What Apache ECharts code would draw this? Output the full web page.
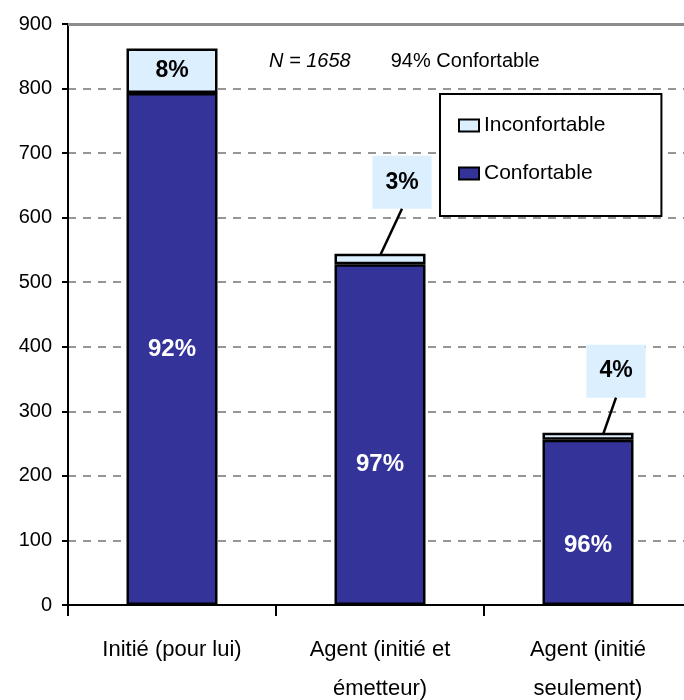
<!DOCTYPE html>
<html>
<head>
<meta charset="utf-8">
<style>
  html, body { margin: 0; padding: 0; background: #fff; }
  #chart { width: 684px; height: 700px; }
</style>
<script src="https://cdn.jsdelivr.net/npm/echarts@6/dist/echarts.min.js"></script>
</head>
<body>
<div id="chart"></div>
<script>
// données
const categories = ['Initié (pour lui)', 'Agent (initié et\németteur)', 'Agent (initié\nseulement)']
const confortable = [793, 528, 256]
const inconfortable = [69, 16, 11]
const yTicks = [0, 100, 200, 300, 400, 500, 600, 700, 800, 900]
const note = { n: 'N = 1658', share: '94% Confortable' }

const FONT = "'Liberation Sans', Arial, sans-serif"
const totals = confortable.map((v, i) => v + inconfortable[i])
const pct = (v, i) => Math.round(v / totals[i] * 100) + '%'

// décalage des bulles 3% / 4%
const calloutShift = [null, { dx: 22, dy: -40 }, { dx: 28, dy: -30 }]
const labelDistance = 5
// point d'attache du trait sur le haut de la barre (px depuis le centre)
const anchorShift = [0, 0, 15]
// décalage des % blancs
const innerShift = [0, 30, 23]

const chart = echarts.init(document.getElementById('chart'))

// traits entre les bulles et les barres
const leaderData = totals
    .map((t, i) => [i, t])
    .filter(d => calloutShift[d[0]])

const option = {
    animation: false,
    textStyle: { fontFamily: FONT },
    title: {
        left: 264,
        top: 46,
        text: '{i|' + note.n + '}{gap|}{n|' + note.share + '}',
        textStyle: {
            rich: {
                i: { fontFamily: FONT, fontSize: 20, fontStyle: 'italic', fontWeight: 'normal', color: '#000' },
                gap: { width: 40 },
                n: { fontFamily: FONT, fontSize: 20, fontWeight: 'normal', color: '#000' }
            }
        }
    },
    legend: {
        orient: 'vertical',
        left: 440,
        top: 94,
        data: ['Inconfortable', 'Confortable'],
        icon: 'rect',
        backgroundColor: '#fff',
        borderColor: '#000',
        borderWidth: 2,
        padding: [21, 56, 32, 18],
        itemGap: 27,
        itemWidth: 20,
        itemHeight: 12,
        itemStyle: { borderColor: '#000', borderWidth: 2 },
        textStyle: { fontFamily: FONT, fontSize: 21, color: '#000' }
    },
    grid: {
        left: 68,
        top: 24,
        width: 624,
        bottom: 95,
        outerBoundsMode: 'none'
    },
    xAxis: {
        type: 'category',
        data: categories,
        axisLine: { lineStyle: { color: '#000', width: 2 } },
        axisTick: { show: true, length: 11, lineStyle: { color: '#000', width: 2 } },
        axisLabel: {
            color: '#000',
            fontFamily: FONT,
            fontSize: 22,
            lineHeight: 39,
            margin: 25
        }
    },
    yAxis: {
        type: 'value',
        min: yTicks[0],
        max: yTicks[yTicks.length - 1],
        interval: 100,
        axisLine: { show: true, lineStyle: { color: '#000', width: 2 } },
        axisTick: { show: true, length: 6, lineStyle: { color: '#000', width: 2 } },
        axisLabel: { color: '#000', fontFamily: FONT, fontSize: 20, margin: 16 },
        splitLine: {
            lineStyle: { type: [8, 7], color: '#969696', width: 2 }
        }
    },
    series: [
        {
            name: 'Confortable',
            type: 'bar',
            stack: 'total',
            barWidth: 91,
            itemStyle: { color: '#333399', borderColor: '#000', borderWidth: 2.5 },
            data: confortable.map((v, i) => ({
                value: v,
                label: { offset: [0, innerShift[i]] }
            })),
            label: {
                show: true,
                position: 'inside',
                color: '#fff',
                fontFamily: FONT,
                fontWeight: 'bold',
                fontSize: 24,
                formatter: p => pct(p.value, p.dataIndex)
            },
            markLine: {
                silent: true,
                symbol: 'none',
                label: { show: false },
                lineStyle: { type: 'solid', color: '#8c8c8c', width: 3 },
                data: [{ yAxis: yTicks[yTicks.length - 1] }]
            }
        },
        {
            name: 'Inconfortable',
            type: 'bar',
            stack: 'total',
            barWidth: 91,
            itemStyle: { color: '#dcefff', borderColor: '#000', borderWidth: 2.5 },
            data: inconfortable.map((v, i) => {
                if (!calloutShift[i]) {
                    return { value: v, label: { position: 'inside' } }
                }
                return {
                    value: v,
                    label: {
                        position: 'top',
                        distance: labelDistance,
                        backgroundColor: '#dcefff',
                        padding: [15, 13]
                    }
                }
            }),
            label: {
                show: true,
                color: '#000',
                fontFamily: FONT,
                fontWeight: 'bold',
                fontSize: 23,
                formatter: p => pct(p.value, p.dataIndex)
            },
            labelLayout: p => {
                const s = calloutShift[p.dataIndex]
                return s ? { dx: s.dx, dy: s.dy } : {}
            }
        },
        {
            name: 'leader',
            type: 'custom',
            silent: true,
            z: 3,
            data: leaderData,
            renderItem: (params, api) => {
                const i = api.value(0)
                const s = calloutShift[i]
                const top = api.coord([i, api.value(1)])
                return {
                    type: 'line',
                    shape: {
                        x1: top[0] + anchorShift[i],
                        y1: top[1] + 2,
                        x2: top[0] + s.dx,
                        y2: top[1] - labelDistance + s.dy
                    },
                    style: { stroke: '#000', lineWidth: 2.5 }
                }
            }
        }
    ]
}

chart.setOption(option)
</script>
</body>
</html>
